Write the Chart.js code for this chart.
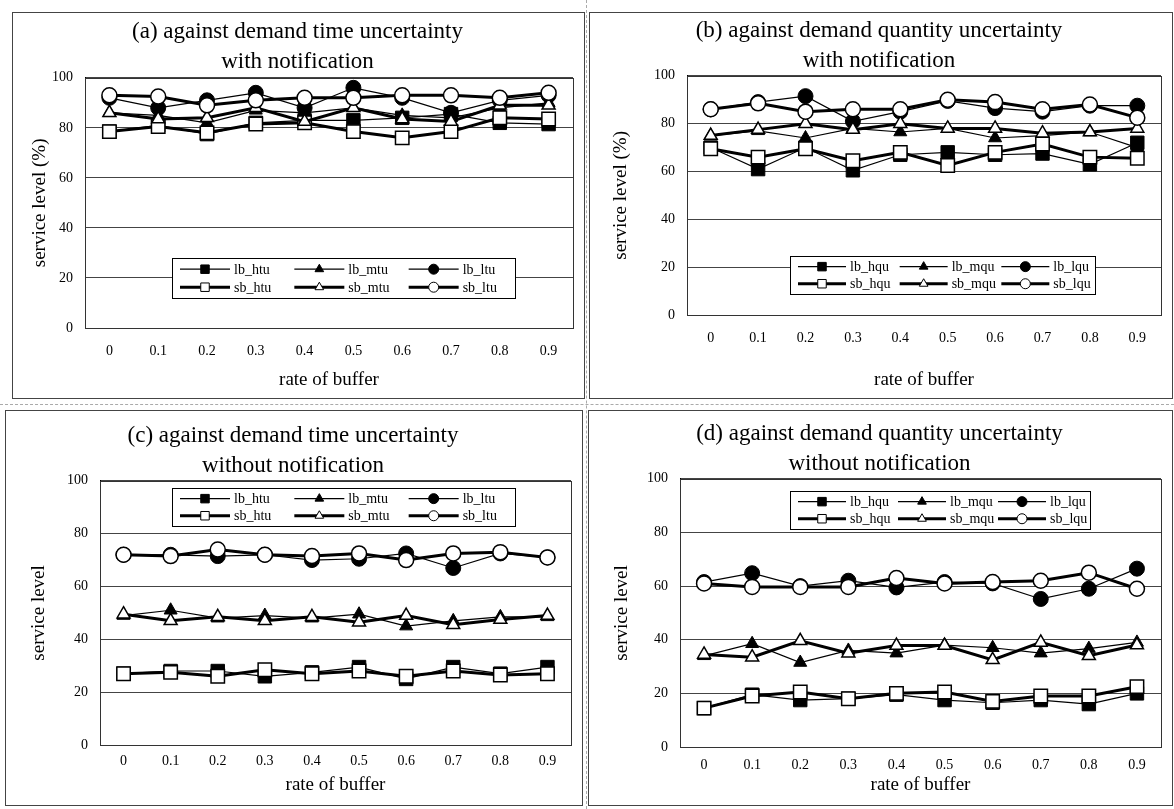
<!DOCTYPE html>
<html>
<head>
<meta charset="utf-8">
<script src="https://cdn.jsdelivr.net/npm/chart.js@4.4.0/dist/chart.umd.min.js"></script>
<style>
body { margin: 0; background: #fff; width: 1174px; height: 809px; position: relative; overflow: hidden; }
.panel { position: absolute; border: 1px solid #444; box-sizing: border-box; background: #fff; }
.panel canvas { position: absolute; left: 0; top: 0; }
.sep { position: absolute; border: 0 dashed #aaa; }
</style>
</head>
<body>
<div class="sep" style="left:586px;top:0;height:809px;border-left-width:1px"></div>
<div class="sep" style="left:0;top:404px;width:1174px;border-top-width:1px"></div>
<div class="panel" style="left:12px;top:12px;width:573px;height:387px"><canvas id="chartA" width="571" height="385"></canvas></div>
<div class="panel" style="left:589px;top:12px;width:584px;height:387px"><canvas id="chartB" width="582" height="385"></canvas></div>
<div class="panel" style="left:5px;top:410px;width:578px;height:396px"><canvas id="chartC" width="576" height="394"></canvas></div>
<div class="panel" style="left:588px;top:410px;width:585px;height:396px"><canvas id="chartD" width="583" height="394"></canvas></div>
<script>
// x categories and y ticks
var bufferRates = ['0', '0.1', '0.2', '0.3', '0.4', '0.5', '0.6', '0.7', '0.8', '0.9'];
var levelTicks = [0, 20, 40, 60, 80, 100];

// (a) time uncertainty, with notification
var timeNames = ['lb_htu', 'lb_mtu', 'lb_ltu', 'sb_htu', 'sb_mtu', 'sb_ltu'];
var aLbHtu = [78.5, 81, 77.5, 82, 83, 83, 84, 85.5, 82, 81.5];
var aLbMtu = [86, 85, 82, 87, 86, 88, 85, 84, 88, 90];
var aLbLtu = [92, 88, 91, 94, 88, 96, 92, 86, 91, 93];
var aSbHtu = [78.5, 80.5, 78, 81.5, 82, 78.5, 76, 78.5, 84, 83.5];
var aSbMtu = [86, 83.5, 84, 88, 82.5, 88, 83.5, 82.5, 89, 89];
var aSbLtu = [93, 92.5, 89, 91, 92, 92, 93, 93, 92, 94];

// (b) quantity uncertainty, with notification
var qtyNames = ['lb_hqu', 'lb_mqu', 'lb_lqu', 'sb_hqu', 'sb_mqu', 'sb_lqu'];
var bLbHqu = [70, 61, 70, 60.5, 67, 68, 67, 67.5, 63, 72];
var bLbMqu = [75, 77, 74, 78, 76.5, 78, 74, 75, 76.5, 70];
var bLbLqu = [86, 89, 91.5, 81, 85, 89.5, 86.5, 85, 87.5, 87.5];
var bSbHqu = [69.5, 66, 69.5, 64.5, 68, 62.5, 68, 71.5, 66, 65.5];
var bSbMqu = [75, 77.5, 80, 77.5, 80, 78, 78, 76, 76.5, 78];
var bSbLqu = [86, 88.5, 85, 86, 86, 90, 89, 86, 88, 82.5];

// (c) time uncertainty, without notification
var cLbHtu = [27, 28, 28, 26, 27.5, 29.5, 25, 29.5, 27, 29.5];
var cLbMtu = [49, 51, 48, 49, 48, 49.5, 45, 47, 48.5, 48.5];
var cLbLtu = [72, 72, 71.5, 72, 70, 70.5, 72.5, 67, 72.5, 71];
var cSbHtu = [27, 27.5, 26, 28.5, 27, 28, 26, 28, 26.5, 27];
var cSbMtu = [49.5, 47, 48.5, 47, 48.5, 46.5, 49, 45.5, 47.5, 49];
var cSbLtu = [72, 71.5, 74, 72, 71.5, 72.5, 70, 72.5, 73, 71];

// (d) quantity uncertainty, without notification
var dLbHqu = [14.5, 19.5, 17.5, 18, 19.5, 17.5, 16.5, 17.5, 16, 20];
var dLbMqu = [34, 38.5, 31.5, 36, 35, 38, 37, 35, 36.7, 39];
var dLbLqu = [61.5, 64.8, 60, 62, 59.5, 61.5, 61, 55.2, 59, 66.5];
var dSbHqu = [14.5, 19, 20.5, 18, 20, 20.5, 17, 19, 19, 22.5];
var dSbMqu = [34.5, 33.5, 39.6, 35, 37.8, 37.8, 32.5, 39, 34, 38];
var dSbLqu = [61, 59.7, 59.7, 59.7, 63, 61, 61.5, 62, 65, 59];

var SERIF = "'Liberation Serif', 'Times New Roman', serif";

// box round the plot area
var plotFrame = {
    id: 'plotFrame',
    beforeDatasetsDraw: function(chart) {
        var a = chart.chartArea, ctx = chart.ctx;
        ctx.save();
        ctx.strokeStyle = '#333';
        ctx.lineWidth = 1;
        ctx.strokeRect(Math.round(a.left) + 0.5, Math.round(a.top) + 0.5, Math.round(a.right - a.left), Math.round(a.bottom - a.top));
        ctx.restore();
    }
};

// legend drawn inside the plot, 3 columns x 2 rows, with a frame
var boxLegend = {
    id: 'boxLegend',
    afterDraw: function(chart, args, o) {
        var ctx = chart.ctx;
        ctx.save();
        ctx.fillStyle = '#fff';
        ctx.fillRect(o.x, o.y, o.w, o.h);
        ctx.strokeStyle = '#000';
        ctx.lineWidth = 1;
        ctx.strokeRect(o.x + 0.5, o.y + 0.5, o.w, o.h);
        var cw = o.w / 3;
        chart.data.datasets.forEach(function(d, i) {
            var col = i % 3, row = Math.floor(i / 3);
            var lx = o.x + col * cw + 8;
            var ly = o.y + o.h * (row ? 0.73 : 0.28);
            ctx.strokeStyle = '#000';
            ctx.lineWidth = d.borderWidth;
            ctx.beginPath();
            ctx.moveTo(lx, ly);
            ctx.lineTo(lx + o.line, ly);
            ctx.stroke();
            ctx.fillStyle = d.pointBackgroundColor;
            ctx.lineWidth = 1;
            Chart.helpers.drawPoint(ctx, {
                pointStyle: d.pointStyle,
                radius: d.pointStyle === 'rect' ? 6 : 5,
                borderWidth: 1,
                rotation: 0
            }, lx + o.line / 2, ly);
            ctx.fillStyle = '#000';
            ctx.font = o.size + 'px ' + SERIF;
            ctx.textBaseline = 'middle';
            ctx.fillText(d.label, lx + o.line + 4, ly + 1);
        });
        ctx.restore();
    }
};

function makeDatasets(names, series) {
    var shapes = ['rect', 'triangle', 'circle'];
    return names.map(function(n, i) {
        var thick = i >= 3;
        var shape = shapes[i % 3];
        return {
            label: n,
            data: series[i],
            borderColor: '#000',
            borderWidth: thick ? 3 : 1.2,
            pointStyle: shape,
            pointRadius: shape === 'rect' ? 9.5 : 7.5,
            pointBackgroundColor: thick ? '#fff' : '#000',
            pointBorderColor: '#000',
            pointBorderWidth: thick ? 1.5 : 1,
            order: 6 - i,
            tension: 0,
            fill: false,
            clip: false
        };
    });
}

function makeChart(id, title, names, series, opt) {
    return new Chart(document.getElementById(id).getContext('2d'), {
        type: 'line',
        data: {
            labels: bufferRates,
            datasets: makeDatasets(names, series)
        },
        options: {
            responsive: false,
            animation: false,
            layout: { padding: { left: 0, right: opt.padR, top: 0, bottom: 0 } },
            plugins: {
                legend: { display: false },
                tooltip: { enabled: false },
                title: {
                    display: true,
                    text: title,
                    color: '#000',
                    font: { family: SERIF, size: 23, weight: 'normal', lineHeight: 1.3 },
                    padding: { top: opt.titleTop, bottom: opt.titleBottom }
                },
                boxLegend: opt.legend
            },
            scales: {
                x: {
                    offset: true,
                    grid: { display: false, drawTicks: false },
                    border: { color: '#000' },
                    ticks: { color: '#000', font: { family: SERIF, size: 14 }, padding: opt.xTickPad, maxRotation: 0 },
                    title: { display: true, text: 'rate of buffer', color: '#000', font: { family: SERIF, size: 19 }, padding: { top: 0, bottom: opt.xTitlePad } },
                    afterFit: function(s) { s.height = opt.xAxisH; }
                },
                y: {
                    min: levelTicks[0],
                    max: levelTicks[levelTicks.length - 1],
                    afterBuildTicks: function(s) { s.ticks = levelTicks.map(function(v) { return { value: v }; }); },
                    grid: { color: '#444', drawTicks: false },
                    border: { color: '#000' },
                    ticks: { color: '#000', font: { family: SERIF, size: 14 }, padding: 12 },
                    title: { display: true, text: opt.yTitle, color: '#000', font: { family: SERIF, size: 19 }, padding: { top: opt.yTitlePad, bottom: 0 } },
                    afterFit: function(s) { s.width = opt.yAxisW; }
                }
            }
        },
        plugins: [plotFrame, boxLegend]
    });
}

makeChart('chartA', ['(a) against demand time uncertainty', 'with notification'], timeNames,
    [aLbHtu, aLbMtu, aLbLtu, aSbHtu, aSbMtu, aSbLtu],
    { padR: 2, titleTop: 4, titleBottom: 1, xTickPad: 15, xTitlePad: 7, xAxisH: 70, yAxisW: 72, yTitlePad: 16, yTitle: 'service level (%)',
      legend: { x: 159, y: 245, w: 343, h: 40, line: 50, size: 14 } });

makeChart('chartB', ['(b) against demand quantity uncertainty', 'with notification'], qtyNames,
    [bLbHqu, bLbMqu, bLbLqu, bSbHqu, bSbMqu, bSbLqu],
    { padR: 4, titleTop: 3, titleBottom: 0, xTickPad: 15, xTitlePad: 7, xAxisH: 83, yAxisW: 97, yTitlePad: 20, yTitle: 'service level (%)',
      legend: { x: 200, y: 243, w: 305, h: 38, line: 48, size: 14 } });

makeChart('chartC', ['(c) against demand time uncertainty', 'without notification'], timeNames,
    [cLbHtu, cLbMtu, cLbLtu, cSbHtu, cSbMtu, cSbLtu],
    { padR: 2, titleTop: 10, titleBottom: 0, xTickPad: 8, xTitlePad: 9, xAxisH: 60, yAxisW: 94, yTitlePad: 22, yTitle: 'service level',
      legend: { x: 166, y: 77, w: 343, h: 38, line: 50, size: 14 } });

makeChart('chartD', ['(d) against demand quantity uncertainty', 'without notification'], qtyNames,
    [dLbHqu, dLbMqu, dLbLqu, dSbHqu, dSbMqu, dSbLqu],
    { padR: 2, titleTop: 8, titleBottom: 0, xTickPad: 10, xTitlePad: 9, xAxisH: 58, yAxisW: 91, yTitlePad: 22, yTitle: 'service level',
      legend: { x: 201, y: 80, w: 300, h: 38, line: 48, size: 14 } });
</script>
</body>
</html>
